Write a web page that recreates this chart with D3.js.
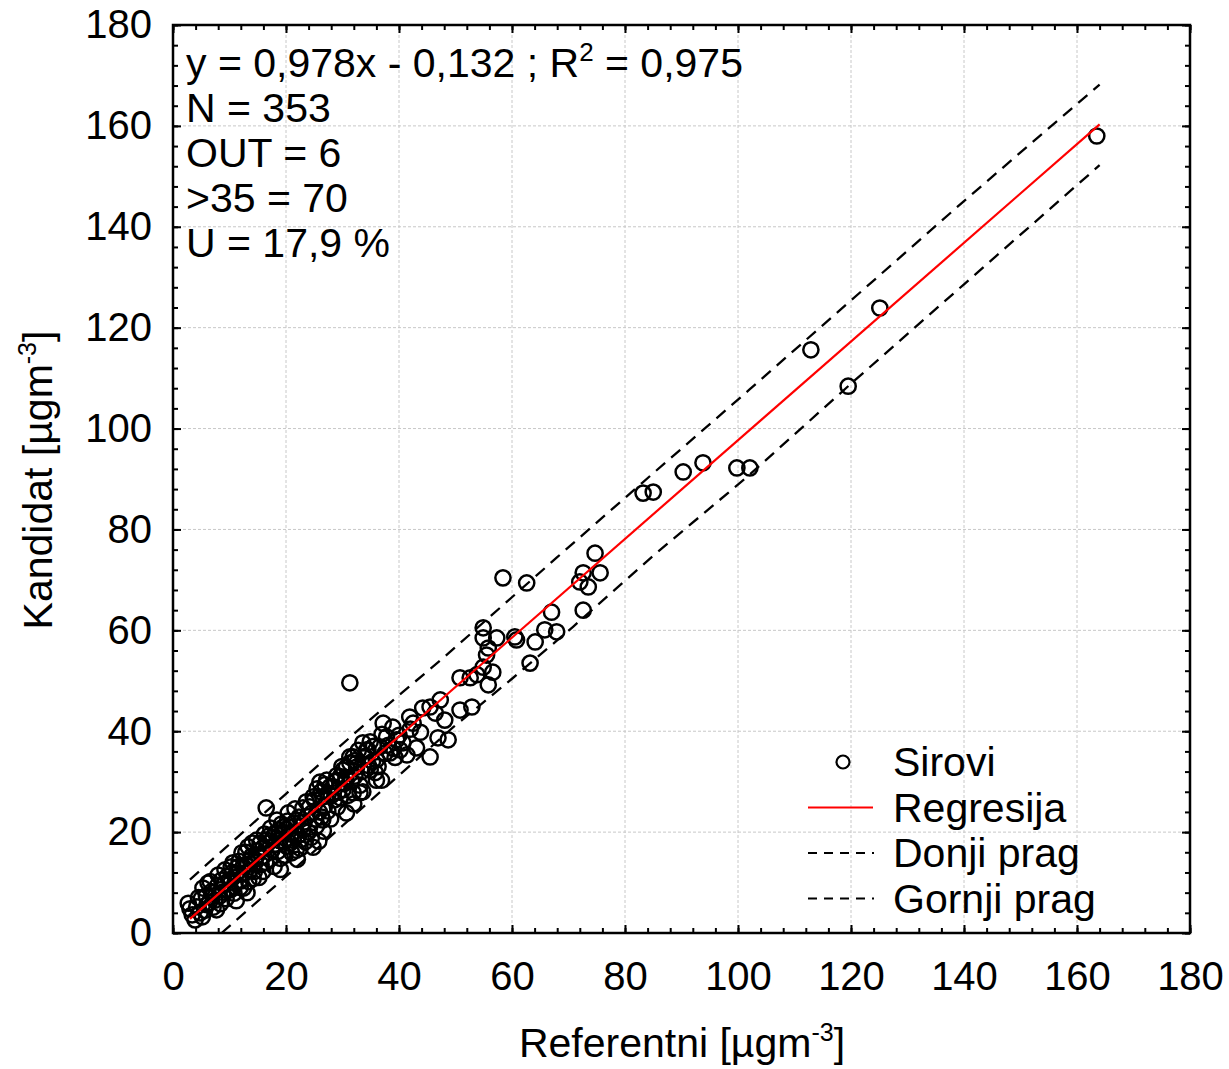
<!DOCTYPE html>
<html>
<head>
<meta charset="utf-8">
<script src="https://cdn.jsdelivr.net/npm/d3@7"></script>
<style>
  body { margin: 0; background: #fff; }
  svg { font-family: "Liberation Sans", Arial, sans-serif; }
</style>
</head>
<body>
<svg id="chart" width="1229" height="1069"></svg>
<script>
// Referentni (x) vs Kandidat (y) raw values
const points = [
  [2.7,5.9],[3.0,4.8],[3.4,3.6],[3.9,2.6],[4.2,5.2],[4.5,7.0],[4.8,4.0],[5.0,6.8],[5.2,3.2],[5.3,8.9],
  [5.6,4.5],[5.9,7.4],[6.0,5.6],[6.2,9.9],[6.4,6.0],[6.6,10.2],[6.8,8.2],[7.1,5.1],[7.2,8.0],[7.4,6.5],
  [7.7,4.6],[7.9,9.4],[8.0,11.5],[8.2,7.3],[8.4,5.8],[8.6,10.5],[8.8,8.1],[9.0,9.6],[9.2,12.5],[9.4,6.8],
  [9.6,11.2],[9.7,8.5],[10.0,10.6],[10.2,8.6],[10.3,13.1],[10.5,12.0],[10.6,13.9],[10.8,7.9],[11.0,9.9],[11.3,11.8],
  [11.4,13.0],[11.7,14.2],[11.9,9.0],[12.0,10.3],[12.2,15.9],[12.4,13.2],[12.5,8.9],[12.7,11.9],[12.9,16.0],[13.0,13.6],
  [13.3,17.1],[13.4,10.2],[13.6,12.4],[13.8,14.6],[13.9,15.2],[14.0,17.8],[14.2,10.8],[14.4,12.2],[14.5,13.9],[14.8,18.4],
  [14.9,15.4],[15.0,16.3],[15.2,11.0],[15.4,17.8],[15.6,13.6],[15.7,15.1],[15.9,12.2],[16.0,17.0],[16.2,19.6],[16.4,14.0],
  [16.5,24.8],[16.6,18.4],[16.8,17.8],[16.9,19.2],[17.1,14.6],[17.3,20.8],[17.5,16.4],[17.7,19.0],[17.9,13.2],[18.1,19.8],
  [18.3,17.6],[18.4,22.4],[18.6,16.2],[18.8,20.4],[18.9,18.3],[19.0,14.8],[19.2,21.6],[19.5,21.0],[19.5,19.8],[19.6,18.2],
  [19.8,15.4],[20.0,20.6],[20.1,17.2],[20.3,22.2],[20.4,23.8],[20.7,17.8],[20.7,21.0],[20.9,19.6],[21.0,15.9],[21.3,18.4],
  [21.4,21.8],[21.6,24.6],[21.8,16.4],[21.9,22.4],[22.2,19.4],[22.3,23.0],[22.5,16.8],[22.7,18.6],[22.8,21.2],[23.0,24.8],
  [23.0,20.4],[23.2,22.0],[23.4,18.1],[23.6,26.0],[23.7,23.1],[24.0,20.0],[24.2,25.0],[24.2,21.0],[24.5,19.0],[24.6,23.8],
  [24.8,27.0],[25.0,26.4],[25.1,22.6],[25.4,21.2],[25.5,28.6],[25.8,18.2],[25.9,24.0],[26.0,29.9],[26.2,28.0],[26.3,23.0],
  [26.5,27.0],[26.5,22.4],[26.8,25.1],[26.9,29.4],[27.2,30.3],[27.4,24.2],[27.5,27.7],[27.8,29.0],[28.0,27.2],[28.3,29.0],
  [28.6,26.4],[28.8,30.0],[29.0,31.2],[29.3,28.0],[29.6,26.8],[29.6,31.0],[29.9,33.0],[30.1,32.3],[30.1,28.4],[30.4,29.7],
  [30.6,30.8],[30.7,32.9],[30.7,23.8],[31.0,27.3],[31.3,34.9],[31.3,33.7],[31.3,49.6],[31.6,30.2],[31.9,34.9],[31.9,27.8],
  [32.2,31.1],[32.2,34.2],[32.5,33.7],[32.5,32.9],[32.8,36.2],[33.1,29.3],[33.1,27.8],[33.4,32.0],[33.6,37.7],[33.6,28.0],
  [34.0,35.0],[34.3,36.3],[34.5,36.3],[34.6,33.2],[34.9,37.9],[34.9,32.3],[35.3,34.0],[35.5,37.0],[36.0,34.3],[36.0,30.3],
  [36.3,33.0],[36.6,36.9],[36.9,30.3],[37.0,39.4],[37.2,41.6],[37.5,35.6],[37.8,38.9],[38.1,37.2],[38.4,35.7],[38.9,40.8],
  [39.0,36.6],[39.3,34.8],[39.6,38.3],[40.0,39.2],[40.2,36.3],[40.7,37.7],[41.4,35.3],[41.9,42.8],[42.0,40.4],[42.5,41.6],
  [43.1,36.7],[43.8,39.8],[44.2,44.6],[45.5,44.8],[45.5,34.9],[46.4,43.6],[46.9,38.7],[47.3,46.2],[48.1,42.2],[48.7,38.3],
  [50.8,44.2],[50.8,50.6],[52.6,50.6],[52.9,44.8],[53.8,51.2],[54.9,60.5],[54.9,58.5],[54.9,52.7],[55.5,55.1],[55.8,56.5],
  [55.8,49.2],[56.6,51.7],[57.3,58.5],[58.4,70.4],[60.5,58.7],[60.8,58.1],[62.6,69.4],[63.2,53.5],[64.1,57.7],[65.8,60.1],
  [67.0,63.6],[67.9,59.7],[72.0,69.6],[72.6,71.4],[72.6,64.0],[73.5,68.6],[74.7,75.3],[75.6,71.4],[83.2,87.2],[85.0,87.4],
  [90.3,91.4],[93.8,93.2],[99.8,92.2],[102.1,92.2],[112.9,115.6],[119.5,108.4],[125.1,123.9],[163.5,158.0],
  [22.0,14.6],[24.8,17.0],[26.6,20.2],[27.9,22.6],[29.1,25.0],[32.0,25.6],[35.8,31.8],[19.0,12.6],[11.2,6.4],[13.1,8.0]
];

// regression y = 0,978x - 0,132 drawn over the data range
const regression = [[3, 2.8], [164, 160.3]];

// tolerance thresholds
const donjiPrag = [[8.6,0],[20,11.2],[35,26.3],[49.6,40.8],[60,50.4],[70.8,60.7],[85,74.8],[101.6,90.4],[120,108.9],[140,128.6],[164,152.2]];
const gornjiPrag = [[3,10.6],[20,27.6],[35,42.4],[48,54.7],[56,62.6],[68,74.5],[83,89.2],[102,107.7],[120,125.4],[140,145.1],[164,168.2]];

const majorTicks = [0, 20, 40, 60, 80, 100, 120, 140, 160, 180];
const minorTicks = d3.range(0, 181, 4);

const infoLines = ["N = 353", "OUT = 6", ">35 = 70", "U = 17,9 %"];
const legendItems = ["Sirovi", "Regresija", "Donji prag", "Gornji prag"];

const svg = d3.select("#chart");
const pLeft = 173, pRight = 1190, pTop = 25, pBottom = 933;
const fs = 41;

const x = d3.scaleLinear().domain([0, 180]).range([pLeft, pRight]);
const y = d3.scaleLinear().domain([0, 180]).range([pBottom, pTop]);

// grid
const grid = svg.append("g").attr("stroke", "#c8c8c8").attr("stroke-width", 1).attr("stroke-dasharray", "3,2");
grid.selectAll(".gx").data(majorTicks.slice(1, -1)).enter().append("line")
  .attr("x1", d => x(d)).attr("x2", d => x(d)).attr("y1", pTop).attr("y2", pBottom);
grid.selectAll(".gy").data(majorTicks.slice(1, -1)).enter().append("line")
  .attr("y1", d => y(d)).attr("y2", d => y(d)).attr("x1", pLeft).attr("x2", pRight);

// points
svg.append("g").selectAll("circle").data(points).enter().append("circle")
  .attr("cx", d => x(d[0])).attr("cy", d => y(d[1])).attr("r", 7.6)
  .attr("fill", "none").attr("stroke", "#000").attr("stroke-width", 2.5);

const line = d3.line().x(d => x(d[0])).y(d => y(d[1]));

svg.append("path").datum(donjiPrag).attr("d", line).attr("fill", "none")
  .attr("stroke", "#000").attr("stroke-width", 2.3).attr("stroke-dasharray", "12,8");
svg.append("path").datum(gornjiPrag).attr("d", line).attr("fill", "none")
  .attr("stroke", "#000").attr("stroke-width", 2.3).attr("stroke-dasharray", "12,8");
svg.append("path").datum(regression).attr("d", line).attr("fill", "none")
  .attr("stroke", "#ff0000").attr("stroke-width", 2.2);

// axes: labels on bottom/left, ticks inward on all four sides
function ticks(axis, transform, values, size, labels) {
  const g = svg.append("g").attr("transform", transform)
    .call(axis.tickValues(values).tickSize(size).tickPadding(0)
      .tickFormat(labels ? d3.format("d") : ""));
  g.select(".domain").remove();
  g.selectAll(".tick line").attr("stroke", "#000").attr("stroke-width", 2);
  g.selectAll("text").attr("font-size", 40).attr("fill", "#000");
  return g;
}
ticks(d3.axisBottom(x), `translate(0,${pBottom})`, majorTicks, -8, true)
  .selectAll("text").attr("y", 29).attr("dy", "0.71em");
ticks(d3.axisBottom(x), `translate(0,${pBottom})`, minorTicks, -5, false);
ticks(d3.axisTop(x), `translate(0,${pTop})`, majorTicks, -8, false);
ticks(d3.axisTop(x), `translate(0,${pTop})`, minorTicks, -5, false);
ticks(d3.axisLeft(y), `translate(${pLeft},0)`, majorTicks, -8, true)
  .selectAll("text").attr("x", -21);
ticks(d3.axisLeft(y), `translate(${pLeft},0)`, minorTicks, -5, false);
ticks(d3.axisRight(y), `translate(${pRight},0)`, majorTicks, -8, false);
ticks(d3.axisRight(y), `translate(${pRight},0)`, minorTicks, -5, false);

svg.append("rect").attr("x", pLeft).attr("y", pTop).attr("width", pRight - pLeft).attr("height", pBottom - pTop)
  .attr("fill", "none").attr("stroke", "#000").attr("stroke-width", 2.5);

// annotation
const eq = svg.append("text").attr("x", 186).attr("y", 77).attr("font-size", fs);
eq.append("tspan").text("y = 0,978x - 0,132 ; R");
eq.append("tspan").attr("font-size", 26).attr("dy", -16).text("2");
eq.append("tspan").attr("dy", 16).text(" = 0,975");
svg.append("g").selectAll("text").data(infoLines).enter().append("text")
  .attr("x", 186).attr("y", (d, i) => 122 + i * 45).attr("font-size", fs).text(d => d);

// axis titles
const xt = svg.append("text").attr("x", 682).attr("y", 1057).attr("text-anchor", "middle").attr("font-size", fs);
xt.append("tspan").text("Referentni [µgm");
xt.append("tspan").attr("font-size", 25).attr("dy", -16).text("-3");
xt.append("tspan").attr("dy", 16).text("]");

const yt = svg.append("text").attr("transform", "translate(52,480) rotate(-90)")
  .attr("text-anchor", "middle").attr("font-size", fs);
yt.append("tspan").text("Kandidat [µgm");
yt.append("tspan").attr("font-size", 25).attr("dy", -16).text("-3");
yt.append("tspan").attr("dy", 16).text("]");

// legend
const lg = svg.append("g");
const ly = i => 762 + i * 45.5;
lg.append("circle").attr("cx", 843).attr("cy", ly(0)).attr("r", 6.5).attr("fill", "none")
  .attr("stroke", "#000").attr("stroke-width", 2.2);
lg.append("line").attr("x1", 808).attr("x2", 873).attr("y1", ly(1)).attr("y2", ly(1))
  .attr("stroke", "#ff0000").attr("stroke-width", 2);
[2, 3].forEach(i => lg.append("line").attr("x1", 808).attr("x2", 874).attr("y1", ly(i)).attr("y2", ly(i))
  .attr("stroke", "#000").attr("stroke-width", 2).attr("stroke-dasharray", "9,7"));
lg.selectAll("text").data(legendItems).enter().append("text")
  .attr("x", 893).attr("y", (d, i) => ly(i) + 14).attr("font-size", fs).text(d => d);
</script>
</body>
</html>
